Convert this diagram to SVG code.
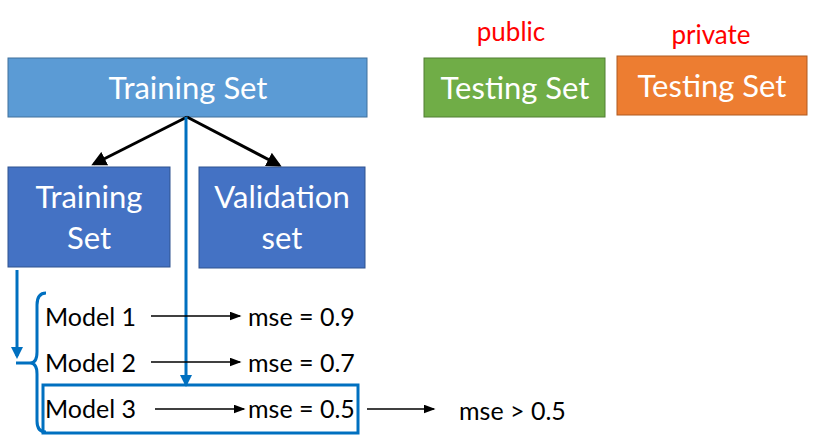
<svg xmlns="http://www.w3.org/2000/svg" width="813" height="437" viewBox="0 0 813 437">
<style>
text{font-family:Lato,"Open Sans",sans-serif}
.w{fill:#fff;font-size:31px;text-anchor:middle}
.k{fill:#000;font-size:25px}
.r{fill:#ff0000;font-size:26px;text-anchor:middle}
.blk{stroke:#000;stroke-width:3;fill:none}
.thin{stroke:#000;stroke-width:1.5;fill:none}
.blu{stroke:#0070C0;stroke-width:3;fill:none}
</style>
<defs>
<marker id="ab" markerWidth="5" markerHeight="5" refX="4" refY="2.5" orient="auto" markerUnits="strokeWidth"><path d="M0,0 L5,2.5 L0,5 z" fill="#000"/></marker>
<marker id="as" markerWidth="8" markerHeight="6" refX="7" refY="3" orient="auto" markerUnits="strokeWidth"><path d="M0,0 L8,3 L0,6 z" fill="#000"/></marker>
<marker id="au" markerWidth="4" markerHeight="4" refX="3" refY="2" orient="auto" markerUnits="strokeWidth"><path d="M0,0 L4,2 L0,4 z" fill="#0070C0"/></marker>
</defs>
<g id="trainAll"><rect x="8" y="58" width="359" height="59" fill="#5B9BD5" stroke="#41719C" stroke-width="1"/><text class="w" x="188" y="99">Training Set</text></g>
<g id="trainSub"><rect x="8" y="167" width="162" height="100" fill="#4472C4" stroke="#2F528F" stroke-width="1"/><text class="w" x="89" y="208">Training</text><text class="w" x="89" y="249">Set</text></g>
<g id="valid"><rect x="199" y="167" width="166" height="101" fill="#4472C4" stroke="#2F528F" stroke-width="1"/><text class="w" x="282" y="208">Validation</text><text class="w" x="282" y="249">set</text></g>
<g id="pub"><text class="r" x="511" y="41">public</text><rect x="424" y="58" width="181" height="59" fill="#70AD47" stroke="#507E32" stroke-width="1"/><text class="w" x="515" y="99">Testing Set</text></g>
<g id="priv"><text class="r" x="711" y="44">private</text><rect x="617" y="56" width="190" height="59" fill="#ED7D31" stroke="#AE5A21" stroke-width="1"/><text class="w" x="712" y="97">Testing Set</text></g>
<g id="models">
<text class="k" x="45" y="326">Model 1</text>
<text class="k" x="45" y="372">Model 2</text>
<text class="k" x="45" y="418">Model 3</text>
<text class="k" x="248" y="326">mse = 0.9</text>
<text class="k" x="248" y="372">mse = 0.7</text>
<text class="k" x="248" y="418">mse = 0.5</text>
<text class="k" x="459" y="420">mse &gt; 0.5</text>
<rect x="43" y="385" width="315" height="48" fill="none" stroke="#0070C0" stroke-width="3"/>
</g>
<g id="connectors">
<line class="blk" x1="187" y1="117" x2="94" y2="164" marker-end="url(#ab)"/>
<line class="blk" x1="187" y1="117" x2="279" y2="165" marker-end="url(#ab)"/>
<line class="blu" x1="186" y1="117" x2="186" y2="384" marker-end="url(#au)"/>
<line class="blu" x1="17" y1="270" x2="17" y2="356" marker-end="url(#au)"/>
<path class="blu" d="M46,293 Q37,293 37,305 L37,352 Q37,363 30,363 L16,363 M30,363 Q37,363 37,374 L37,421 Q37,432 46,432"/>
<line class="thin" x1="151" y1="316" x2="240" y2="316" marker-end="url(#as)"/>
<line class="thin" x1="151" y1="362" x2="240" y2="362" marker-end="url(#as)"/>
<line class="thin" x1="155" y1="409" x2="244" y2="409" marker-end="url(#as)"/>
<line class="thin" x1="367" y1="409" x2="434" y2="409" marker-end="url(#as)"/>
</g>
</svg>
